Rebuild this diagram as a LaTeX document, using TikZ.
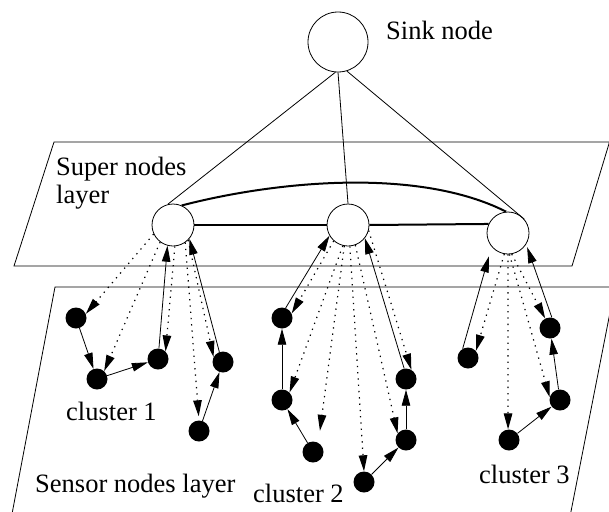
\documentclass[tikz,border=0pt]{standalone}
\usepackage{fontspec}
\setmainfont{Liberation Serif}
\newfontfamily\figserif{Liberation Serif}
\usetikzlibrary{arrows.meta}
\begin{document}
\begin{tikzpicture}[x=1pt,y=-1pt,
  supnode/.style={circle,draw,fill=white,minimum size=42pt,inner sep=0pt,line width=0.8pt},
  sinknode/.style={circle,draw,fill=white,minimum size=60pt,inner sep=0pt,line width=0.8pt},
  sensor/.style={circle,fill=black,minimum size=21pt,inner sep=0pt},
  layerline/.style={line width=0.8pt},
  solarrow/.style={line width=0.8pt,-{Triangle[length=16pt,width=8.5pt]}},
  dotarrow/.style={line width=1.2pt,dash pattern=on 1.3pt off 5pt,-{Triangle[length=16pt,width=8.5pt]}},
  thinlink/.style={line width=0.8pt},
  thicklink/.style={line width=2pt},
  lbl/.style={anchor=base west,inner sep=0pt,font=\figserif\fontsize{26.5}{32}\selectfont}]
\useasboundingbox (0,0) rectangle (609,511);
\clip (0,0) rectangle (609,511);

% layers
\draw[layerline] (54,142) -- (609.5,142) -- (572,266) -- (14,266) -- cycle;
\draw[layerline] (12,514) -- (55,287) -- (615,287) -- (570.5,514);

% nodes
\node[sinknode] (sink) at (338,42) {};
\node[supnode] (s1) at (173,225) {};
\node[supnode] (s2) at (348,225) {};
\node[supnode] (s3) at (508,233) {};

\node[sensor] (a1) at (76,318) {};
\node[sensor] (b1) at (97,379) {};
\node[sensor] (c1) at (158,359) {};
\node[sensor] (d1) at (223,362) {};
\node[sensor] (e1) at (199,431) {};

\node[sensor] (f2) at (282,318) {};
\node[sensor] (g2) at (282,400) {};
\node[sensor] (h2) at (313,452) {};
\node[sensor] (i2) at (364,482) {};
\node[sensor] (j2) at (406,440) {};
\node[sensor] (k2) at (406,379) {};

\node[sensor] (l3) at (468,358) {};
\node[sensor] (m3) at (550,328) {};
\node[sensor] (n3) at (560,400) {};
\node[sensor] (o3) at (509,440) {};

% labels
\node[lbl] (tsink) at (386,39) {Sink node};
\node[lbl] (tsup1) at (56,175) {Super nodes};
\node[lbl] (tsup2) at (56,203) {layer};
\node[lbl] (tc1) at (66,420) {cluster 1};
\node[lbl] (tsen) at (35,492) {Sensor nodes layer};
\node[lbl] (tc2) at (253,502) {cluster 2};
\node[lbl] (tc3) at (479,483) {cluster 3};

% sink links
\draw[thinlink] (sink.-95) -- (s1.104);
\draw[thinlink] (sink.-90) -- (s2.90);
\draw[thinlink] (sink.-73) -- (s3.40);

% super node links
\draw[thicklink] (s1.east) -- (s2.west);
\draw[thicklink] (s2.east) -- (s3.155);
\draw[thicklink] (s1.66) .. controls (280,180) and (420,168) .. (s3.95);

% cluster 1
\draw[solarrow] (a1) -- (b1);
\draw[solarrow] (b1) -- (c1);
\draw[solarrow] (c1.85) -- (s1.-105);
\draw[solarrow] (e1) -- (d1);
\draw[solarrow] (d1.110) -- (s1.-40);
\draw[dotarrow] (s1.-155) -- (a1.23);
\draw[dotarrow] (s1.-127) -- (b1.48);
\draw[dotarrow] (s1.-85) -- (c1.45);
\draw[dotarrow] (s1.-45) -- (d1.152);
\draw[dotarrow,shorten >=4pt] (s1.-55) -- (e1.90);

% cluster 2
\draw[solarrow] (f2.70) -- (s2.-150);
\draw[solarrow] (g2) -- (f2);
\draw[solarrow] (h2) -- (g2);
\draw[solarrow] (i2) -- (j2);
\draw[solarrow] (j2) -- (k2);
\draw[solarrow] (k2.100) -- (s2.-38);
\draw[dotarrow] (s2.-132) -- (f2.25);
\draw[dotarrow] (s2.-104) -- (g2.45);
\draw[dotarrow,shorten >=12pt] (s2.-100) -- (h2.60);
\draw[dotarrow] (s2.-85) -- (i2.90);
\draw[dotarrow] (s2.-70) -- (j2.142);
\draw[dotarrow] (s2.-15) -- (k2.60);

% cluster 3
\draw[solarrow,shorten >=10pt] (l3.120) -- (s3.-140);
\draw[solarrow,shorten >=3pt] (m3.80) -- (s3.-32);
\draw[solarrow] (n3) -- (m3);
\draw[solarrow] (o3) -- (n3);
\draw[dotarrow] (s3.-100) -- (l3.42);
\draw[dotarrow] (s3.-80) -- (m3.117);
\draw[dotarrow] (s3.-90) -- (o3.95);
\draw[dotarrow] (s3.-86) -- (n3.165);
\end{tikzpicture}
\end{document}
